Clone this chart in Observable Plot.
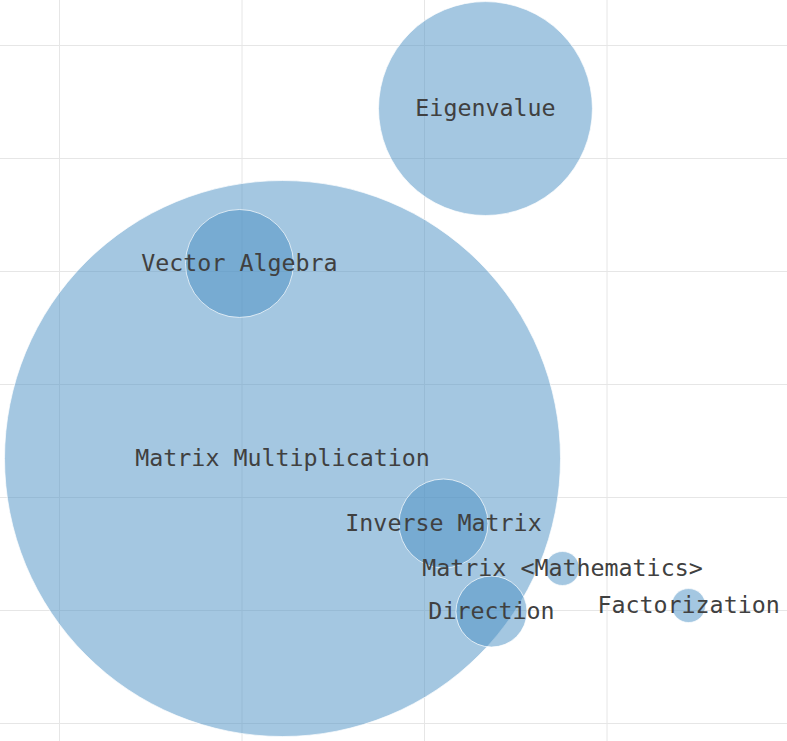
<!DOCTYPE html>
<html>
<head>
<meta charset="utf-8">
<script src="https://cdn.jsdelivr.net/npm/d3@7"></script>
<script src="https://cdn.jsdelivr.net/npm/@observablehq/plot@0.6"></script>
<style>
  html, body { margin: 0; padding: 0; background: #fff; }
  #chart svg { display: block; }
</style>
</head>
<body>
<div id="chart"></div>
<script>
// Topics (bubble labels)
const topics = ["Eigenvalue", "Matrix Multiplication", "Vector Algebra", "Inverse Matrix", "Matrix <Mathematics>", "Direction", "Factorization"];
// Bubble positions (arbitrary layout units) and sizes
const xValues = [2.334, 1.222, 0.986, 2.104, 2.756, 2.367, 3.447];
const yValues = [0.558, 3.655, 1.929, 4.230, 4.628, 5.009, 4.956];
const sizes   = [148, 1000, 37.7, 25.6, 3.74, 16.3, 3.74];
// Grid tick values
const xTicks = [0, 1, 2, 3, 4];
const yTicks = [0, 1, 2, 3, 4, 5, 6];

const data = topics.map((t, i) => ({topic: t, x: xValues[i], y: yValues[i], size: sizes[i]}));

const chart = Plot.plot({
  width: 787,
  height: 741,
  margin: 0,
  x: {domain: [-0.3233, 3.989], axis: null},
  y: {domain: [-0.398, 6.159], reverse: true, axis: null},
  r: {type: "sqrt", domain: [0, 1000], range: [0, 278]},
  marks: [
    Plot.gridX(xTicks, {stroke: "#e6e6e6", strokeOpacity: 1, strokeWidth: 1}),
    Plot.gridY(yTicks, {stroke: "#e6e6e6", strokeOpacity: 1, strokeWidth: 1}),
    Plot.dot(data, {x: "x", y: "y", r: "size", fill: "#4a90c4", fillOpacity: 0.5, stroke: "white", strokeOpacity: 0.7, strokeWidth: 1}),
    Plot.text(data, {x: "x", y: "y", text: "topic", fontFamily: "DejaVu Sans Mono", fontSize: 23.3, fill: "#404040"})
  ]
});
document.getElementById("chart").appendChild(chart);
</script>
</body>
</html>
